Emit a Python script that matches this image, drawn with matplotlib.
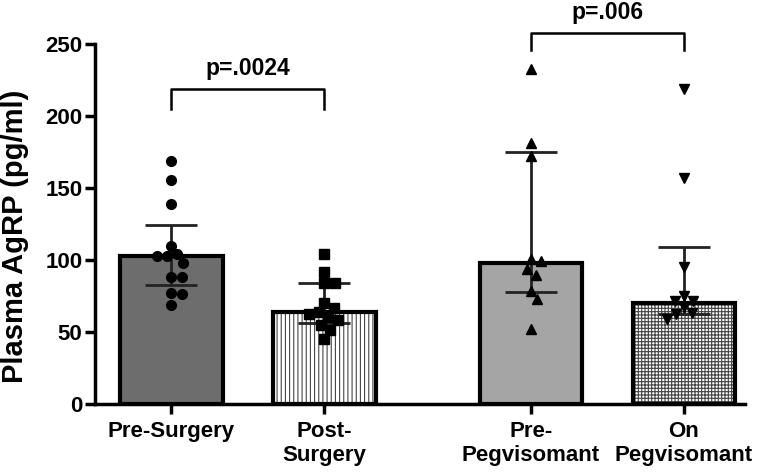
import numpy as np
import matplotlib.pyplot as plt

plt.rcParams['font.family'] = ['Liberation Sans', 'DejaVu Sans']
plt.rcParams['font.weight'] = 'bold'
plt.rcParams['hatch.linewidth'] = 0.8

groups = ['Pre-Surgery', 'Post-\nSurgery', 'Pre-\nPegvisomant', 'On\nPegvisomant']
pre_surgery = [169, 155.6, 138.9, 110, 102.8, 102.8, 104, 97.7, 88, 88, 77.3, 76.4, 69]
post_surgery = [104, 91.4, 83.8, 83.8, 70.4, 64.1, 66.9, 60.2, 62.5, 54.9, 58.3, 51.4, 45.1]
pre_peg = [233, 181, 172, 99.3, 100.5, 93.7, 89.6, 78.7, 72.7, 51.9]
on_peg = [219, 156.7, 95.4, 75.2, 71.8, 71.8, 67.6, 63.4, 62.5, 59]
medians = [102.8, 64, 98, 70.4]
q1 = [82.6, 56, 77.7, 62.3]
q3 = [124.3, 84, 175.2, 109.3]
p_labels = ['p=.0024', 'p=.006']
p_bracket_y = [218.7, 258]
p_bracket_drop = [14, 12]

xpos = [0, 1, 2.35, 3.35]
series = [pre_surgery, post_surgery, pre_peg, on_peg]
markers = ['o', 's', '^', 'v']
fills = ['#6d6d6d', 'white', '#a5a5a5', 'white']
hatches = [None, '||||', None, '+++++']

fig = plt.figure(figsize=(7.62, 4.73), dpi=100)
ax = fig.add_axes([95 / 762, 69 / 473, 650 / 762, 404 / 473])
ax.set_xlim(-0.5, 3.75)
ax.set_ylim(0, 280.6)

width = 0.67
for i in range(4):
    if hatches[i]:
        ax.bar(xpos[i], medians[i], width, color='white', edgecolor='#444444',
               hatch=hatches[i], linewidth=0, zorder=1)
        ax.bar(xpos[i], medians[i], width, fill=False, edgecolor='black',
               linewidth=3, zorder=2)
    else:
        ax.bar(xpos[i], medians[i], width, color=fills[i], edgecolor='black',
               linewidth=3, zorder=2)
    ax.errorbar(xpos[i], medians[i],
                yerr=[[medians[i] - q1[i]], [q3[i] - medians[i]]],
                fmt='none', ecolor='#222222', elinewidth=2, capsize=19,
                capthick=2, zorder=3)


def swarm(x0, vals, d):
    # simple beeswarm in display space
    pts = ax.transData.transform([(x0, v) for v in vals])
    order = np.argsort(-pts[:, 1])
    placed = []
    out = np.zeros(len(vals))
    cx = pts[0, 0]
    for idx in order:
        py = pts[idx, 1]
        cands = [cx]
        for (qx, qy) in placed:
            dy = abs(qy - py)
            if dy < d:
                dx = np.sqrt(d * d - dy * dy)
                cands += [qx + dx, qx - dx]
        cands.sort(key=lambda c: abs(c - cx))
        for c in cands:
            if all((c - qx) ** 2 + (py - qy) ** 2 >= d * d - 1e-6 for qx, qy in placed):
                placed.append((c, py))
                out[idx] = c
                break
    return ax.transData.inverted().transform(np.column_stack([out, pts[:, 1]]))[:, 0]


for i in range(4):
    xs = swarm(xpos[i], series[i], 10.5)
    ax.plot(xs, series[i], linestyle='none', marker=markers[i], color='black',
            markersize=7, zorder=4, clip_on=False)

# significance brackets
pairs = [(0, 1), (2, 3)]
for (a, b), lab, yb, dr in zip(pairs, p_labels, p_bracket_y, p_bracket_drop):
    ax.plot([xpos[a], xpos[a], xpos[b], xpos[b]], [yb - dr, yb, yb, yb - dr],
            color='black', linewidth=1.8, clip_on=False)
    ax.text((xpos[a] + xpos[b]) / 2, yb + 9.5, lab, ha='center', va='baseline',
            fontsize=16.5, fontweight='bold')

for s in ['top', 'right']:
    ax.spines[s].set_visible(False)
ax.spines['left'].set_linewidth(2.5)
ax.spines['bottom'].set_linewidth(2.5)
ax.spines['left'].set_bounds(0, 250)
ax.set_yticks([0, 50, 100, 150, 200, 250])
ax.set_xticks(xpos)
ax.set_xticklabels(groups, fontsize=16, fontweight='bold')
ax.tick_params(axis='y', length=7, width=2.5, labelsize=16, pad=2)
ax.tick_params(axis='x', length=7, width=2.5, pad=5)
ax.set_ylabel('Plasma AgRP (pg/ml)', fontsize=21, fontweight='bold')
ax.yaxis.set_label_coords(-0.102, 0.416)

fig.savefig('out.png', dpi=100)
